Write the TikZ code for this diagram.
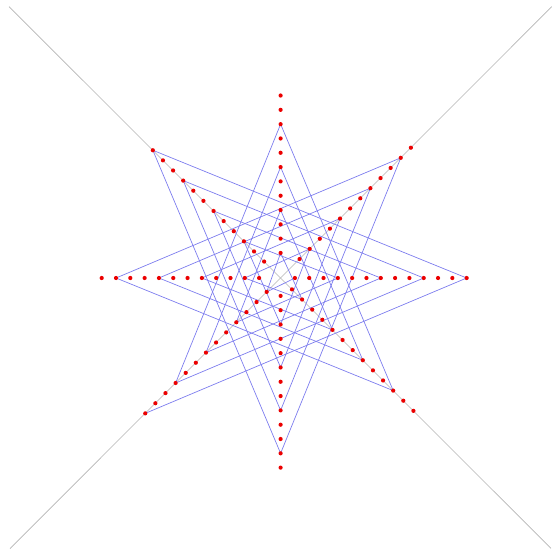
\documentclass[tikz,border=0pt]{standalone}
\usepackage{xcolor}
\usepackage{tikz}
\usetikzlibrary{calc}
\definecolor{chordblue}{RGB}{125,125,238}
\definecolor{dotred}{RGB}{235,0,0}
\definecolor{diaggray}{RGB}{180,180,180}

\begin{document}
\begin{tikzpicture}[
  x=1pt,y=-1pt,
  dot/.style={circle,fill=dotred,inner sep=0pt,minimum size=4.2pt},
  chord/.style={draw=chordblue,line width=0.7pt},
  diag/.style={draw=diaggray,line width=0.6pt}
]
  \useasboundingbox (0,0) rectangle (557,555);
  \coordinate (o) at (280.6,278);
  \coordinate (nw) at (9,6.6);
  \coordinate (se) at (551,548.4);
  \coordinate (ne) at (551.7,6.7);
  \coordinate (sw) at (10,548.6);

  % the two diagonals
  \draw[diag] (nw) -- (se);
  \draw[diag] (ne) -- (sw);

  % points of the spiral, 45 degrees apart
  \foreach \n in {8,...,107}
    \coordinate (p\n) at ($(o)+(45*\n:1.789*\n)$);

  % every third point joined
  \foreach \n [evaluate=\n as \m using int(\n+3)] in {8,11,...,104}
    \draw[chord] (p\n) -- (p\m);

  \foreach \n in {8,...,107}
    \node[dot] (d\n) at (p\n) {};
\end{tikzpicture}
\end{document}
